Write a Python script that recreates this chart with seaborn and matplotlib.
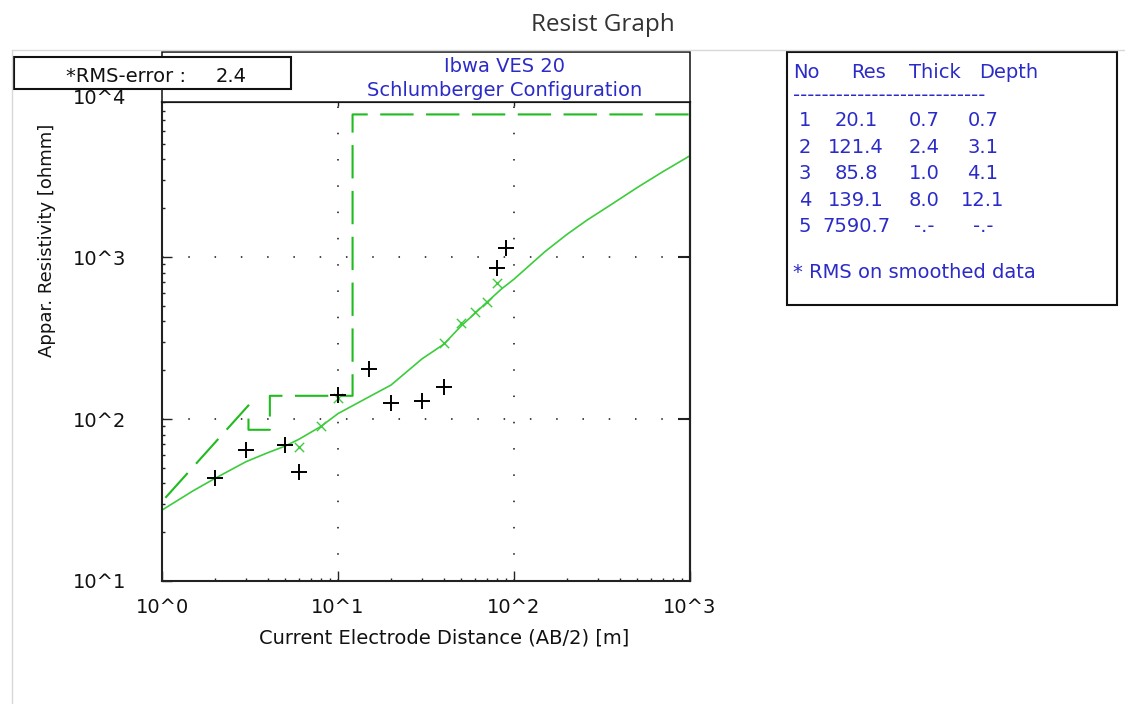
import numpy as np
import pandas as pd
import matplotlib
matplotlib.use("Agg")  # no display in the sandbox
import matplotlib.pyplot as plt
import matplotlib.patches as mpatches
from matplotlib.lines import Line2D
from matplotlib.ticker import (FixedLocator, FuncFormatter, LogLocator,
                               NullFormatter, NullLocator)
import seaborn as sns

# field data: AB/2 [m] and apparent resistivity [ohmm]
field_ab2 = [2, 3, 5, 6, 10, 15, 20, 30, 40, 80, 90]
field_rho = [43, 64, 69, 47, 140, 204, 126, 129, 157, 851, 1140]

# smoothed data
smooth_ab2 = [6, 8, 10, 40, 50, 60, 70, 80]
smooth_rho = [67.5, 90.6, 134, 293, 390, 459, 530, 689]

# calculated sounding curve of the model
model_ab2 = [1, 1.5, 2, 3, 4, 5, 6, 8, 10, 15, 20, 30, 40, 50, 60, 70, 85,
             100, 150, 200, 260, 350, 500, 700, 1000]
model_rho = [27.4, 36, 43, 54.5, 62, 68, 75, 90, 108, 137, 162, 235, 290, 375,
             449, 525, 636, 730, 1080, 1380, 1690, 2080, 2680, 3360, 4220]

# layer model
layer_no = [1, 2, 3, 4, 5]
layer_res = [20.1, 121.4, 85.8, 139.1, 7590.7]
layer_thick = [0.7, 2.4, 1.0, 8.0, None]
layer_depth = [0.7, 3.1, 4.1, 12.1, None]
rms_error = 2.4

title = "Resist Graph"
chart_title = ["Ibwa VES 20", "Schlumberger Configuration"]
x_label = "Current Electrode Distance (AB/2) [m]"
y_label = "Appar. Resistivity [ohmm]"

# step line of the layer model, drawn the way the program does it
step_x = [layer_depth[0]]
step_y = [layer_res[0]]
for i in range(1, 4):
    step_x += [layer_depth[i], layer_depth[i]]
    step_y += [layer_res[i], layer_res[i + 1]]
step_x.append(1000)
step_y.append(layer_res[-1])
step = pd.DataFrame({"ab2": step_x, "rho": step_y})

sns.set_style("white")
plt.rcParams["font.family"] = ["DejaVu Sans"]

W, H = 1125, 704
fig = plt.figure(figsize=(W / 100, H / 100), dpi=100)


def fx(px):
    return px / W


def fy(py):
    return 1 - py / H


BLUE = "#2b2bc8"
DASH_GREEN = "#1fbb1f"
CURVE_GREEN = "#3ccc3c"

ax = fig.add_axes([fx(162), fy(581), fx(690) - fx(162), fy(102) - fy(581)])
ax.set_xscale("log")
ax.set_yscale("log")

sns.lineplot(data=step, x="ab2", y="rho", ax=ax, sort=False, estimator=None,
             color=DASH_GREEN, linewidth=1.5, linestyle=(0, (16, 6)))
sns.lineplot(x=model_ab2, y=model_rho, ax=ax, sort=False, estimator=None,
             color=CURVE_GREEN, linewidth=1.2)
sns.scatterplot(x=smooth_ab2, y=smooth_rho, ax=ax, marker="x", s=45,
                color=CURVE_GREEN, linewidth=1.0, zorder=4)
sns.scatterplot(x=field_ab2, y=field_rho, ax=ax, marker="+", s=130,
                color="black", linewidth=1.4, zorder=5)

ax.set_xlim(1, 1000)
ax.set_ylim(10, 10 ** 3.957)

fmt = FuncFormatter(lambda v, pos: f"10^{int(round(np.log10(v)))}")
ax.xaxis.set_major_locator(FixedLocator([1, 10, 100, 1000]))
ax.yaxis.set_major_locator(FixedLocator([10, 100, 1000]))
for axis in (ax.xaxis, ax.yaxis):
    axis.set_minor_locator(LogLocator(base=10, subs=np.arange(2, 10), numticks=20))
    axis.set_major_formatter(fmt)
    axis.set_minor_formatter(NullFormatter())

ax.tick_params(which="both", direction="in", bottom=True, left=True,
               top=False, right=False, color="#222")
ax.tick_params(which="major", length=7, width=1, labelsize=14, labelcolor="#111")
ax.tick_params(which="minor", length=2.2, width=1)
ax.tick_params(axis="x", which="major", pad=12)
ax.tick_params(axis="y", which="major", pad=26)

ax.grid(True, which="major", color="#111", linestyle=(0, (1.0, 16.2)), linewidth=1.1)
for sp in ax.spines.values():
    sp.set_color("#222")
    sp.set_linewidth(1.5)

top = ax.secondary_xaxis("top")
top.xaxis.set_major_locator(FixedLocator([10, 100]))
top.xaxis.set_minor_locator(NullLocator())
top.xaxis.set_major_formatter(NullFormatter())
top.tick_params(direction="in", length=3, width=1, color="#222")

right = ax.secondary_yaxis("right")
right.yaxis.set_major_locator(FixedLocator([100, 1000]))
right.yaxis.set_minor_locator(NullLocator())
right.yaxis.set_major_formatter(NullFormatter())
right.tick_params(direction="in", length=8.5, width=1.5, color="#222")
for s in (top, right):
    for sp in s.spines.values():
        sp.set_color("#222")
        sp.set_linewidth(1.5)

ax.set_xlabel(x_label, fontsize=14, color="#111")
ax.xaxis.set_label_coords((444 - 162) / 528, (581 - 629) / 479)
ax.set_ylabel(y_label, fontsize=13, color="#111")
ax.yaxis.set_label_coords((56 - 162) / 528, (581 - 240) / 479)

# 10^4 sits just above the plotted range
fig.text(fx(126), fy(98), "10^4", ha="right", va="center", fontsize=14, color="#111")

# window title and panel frame
fig.text(fx(603), fy(25), title, ha="center", va="center", fontsize=17.5,
         family=["Open Sans", "DejaVu Sans"], color="#333")
fig.add_artist(Line2D([fx(12), 1], [fy(50), fy(50)], color="#d8d8d8", lw=1))
fig.add_artist(Line2D([fx(12), fx(12)], [fy(50), 0], color="#d8d8d8", lw=1))

# chart title box
fig.add_artist(mpatches.Rectangle((fx(162), fy(102)), fx(690) - fx(162), fy(52) - fy(102),
                                  transform=fig.transFigure, facecolor="white",
                                  edgecolor="#111", lw=1.1))
fig.text(fx(505), fy(66), chart_title[0], ha="center", va="center", fontsize=14, color=BLUE)
fig.text(fx(505), fy(91), chart_title[1], ha="center", va="center", fontsize=14, color=BLUE)

# RMS box
fig.add_artist(mpatches.Rectangle((fx(14), fy(89)), fx(291) - fx(14), fy(57) - fy(89),
                                  transform=fig.transFigure, facecolor="white",
                                  edgecolor="#111", lw=1.5))
fig.text(fx(66), fy(76), "*RMS-error :", ha="left", va="center", fontsize=14, color="#111")
fig.text(fx(216), fy(76), f"{rms_error:.1f}", ha="left", va="center", fontsize=14, color="#111")

# layer table
fig.add_artist(mpatches.Rectangle((fx(787), fy(305)), fx(1117) - fx(787), fy(52) - fy(305),
                                  transform=fig.transFigure, facecolor="none",
                                  edgecolor="#111", lw=1.5))
for word, px in zip(["No", "Res", "Thick", "Depth"], [793, 851, 909, 979]):
    fig.text(fx(px), fy(72), word, ha="left", va="center", fontsize=14, color=BLUE)
fig.text(fx(793), fy(95), "-" * 27, ha="left", va="center", fontsize=14, color=BLUE)


def cell(v):
    return "-.-" if v is None else f"{v:.1f}"


for i, no in enumerate(layer_no):
    row_y = fy(121 + i * 26.4)
    fig.text(fx(799), row_y, str(no), ha="left", va="center", fontsize=14, color=BLUE)
    fig.text(fx(856), row_y, cell(layer_res[i]), ha="center", va="center", fontsize=14, color=BLUE)
    fig.text(fx(924), row_y, cell(layer_thick[i]), ha="center", va="center", fontsize=14, color=BLUE)
    fig.text(fx(983), row_y, cell(layer_depth[i]), ha="center", va="center", fontsize=14, color=BLUE)
fig.text(fx(793), fy(273), "* RMS on smoothed data", ha="left", va="center", fontsize=14, color=BLUE)

fig.savefig("out.png", dpi=100, facecolor="white")
plt.close(fig)
